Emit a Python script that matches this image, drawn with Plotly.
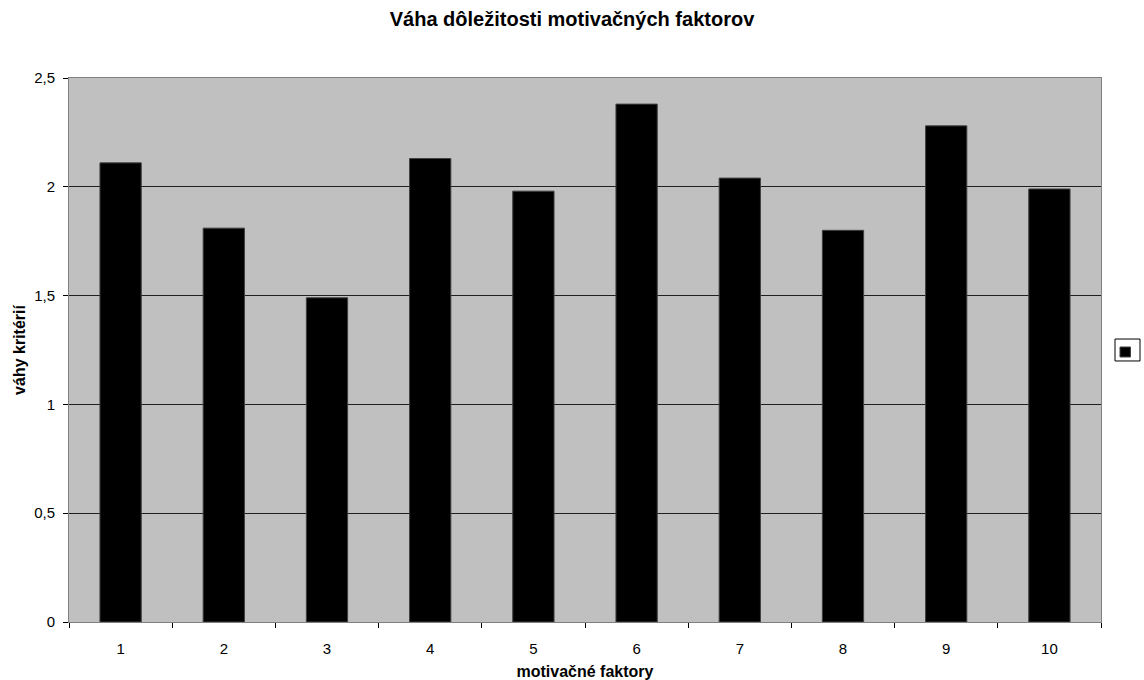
import plotly.graph_objects as go

categories = ["1", "2", "3", "4", "5", "6", "7", "8", "9", "10"]
values = [2.11, 1.81, 1.49, 2.13, 1.98, 2.38, 2.04, 1.80, 2.28, 1.99]
y_ticks = [0, 0.5, 1, 1.5, 2, 2.5]

fig = go.Figure()
fig.add_trace(go.Bar(
    x=categories, y=values, name="",
    marker=dict(color="black", line=dict(color="#404040", width=1)),
    showlegend=False,
))

L, R, T, B = 69, 1101, 77.5, 622.5
W, H = 1144, 680


def px_x(p):
    return (p - L) / (R - L)


def px_y(p):
    return (B - p) / (B - T)


font = "Liberation Sans, Arial, sans-serif"
fig.update_layout(
    width=W, height=H,
    margin=dict(l=L, r=W - R, t=T, b=H - B, autoexpand=False),
    paper_bgcolor="white", plot_bgcolor="#C0C0C0",
    separators=", ",
    bargap=0.6,
    font=dict(family=font, size=15, color="black"),
    title=dict(text="<b>Váha dôležitosti motivačných faktorov</b>", x=0.5, xanchor="center",
               y=1 - 19 / H, yanchor="middle", font=dict(size=20)),
    xaxis=dict(
        type="category", tickson="boundaries", ticks="outside", ticklen=5, tickcolor="black",
        showline=True, linecolor="#808080", mirror=True, showgrid=False,
        ticklabelstandoff=13,
        title=dict(text="<b>motivačné faktory</b>", font=dict(size=16), standoff=9),
        tickfont=dict(size=15),
    ),
    yaxis=dict(
        range=[0, 2.5], tickvals=y_ticks, ticks="outside", ticklen=5, tickcolor="black",
        showline=True, linecolor="#808080", mirror=True,
        showgrid=True, gridcolor="#202020", gridwidth=1, zeroline=False,
        ticklabelstandoff=5,
        title=dict(text="<b>váhy kritérií</b>", font=dict(size=16), standoff=4),
        tickfont=dict(size=15),
    ),
    shapes=[
        dict(type="rect", xref="paper", yref="paper",
             x0=px_x(1115), x1=px_x(1140), y0=px_y(361), y1=px_y(339),
             line=dict(color="black", width=1), fillcolor="white"),
        dict(type="rect", xref="paper", yref="paper",
             x0=px_x(1120), x1=px_x(1130.5), y0=px_y(357), y1=px_y(347),
             line=dict(color="#404040", width=1), fillcolor="black"),
    ],
)

fig.write_html("out.html", config={"displayModeBar": False},
               post_script="document.body.style.margin='0px';")
